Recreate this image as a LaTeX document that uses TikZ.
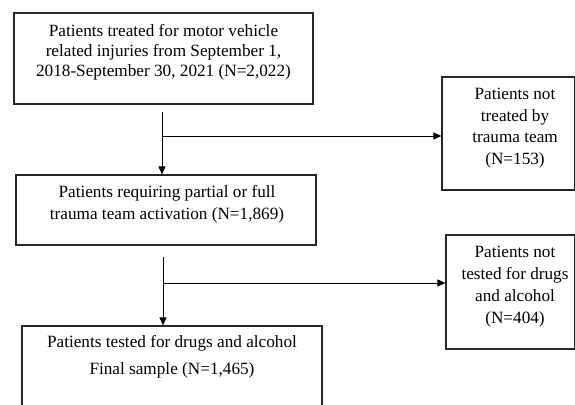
\documentclass[tikz,border=0pt]{standalone}
\usepackage{fontspec}
\setmainfont{Liberation Serif}
\usetikzlibrary{arrows.meta}
\begin{document}
\begin{tikzpicture}[x=1pt,y=-1pt,
  box/.style={draw=black!85, line width=1.2pt, rectangle, inner sep=0pt},
  txt/.style={align=center, inner sep=0pt, font=\fontsize{17.2}{20}\selectfont},
  arr/.style={draw=black, line width=0.9pt, -{Triangle[length=8pt,width=7pt]}},
  ln/.style={draw=black, line width=0.9pt}]
\clip (0,0) rectangle (575,404);
\fill[white] (0,0) rectangle (575,404);
% box 1
\node[box, minimum width=299pt, minimum height=91pt] (b1) at (163.5,58.5) {};
\node[txt] (t1) at (163.5,52.5) {Patients treated for motor vehicle\\related injuries from September 1,\\2018-September 30, 2021 (N=2,022)};
% box 2
\node[box, minimum width=300pt, minimum height=70pt] (b2) at (166,210) {};
\node[txt, font=\fontsize{17.2}{22}\selectfont] (t2) at (167,204.5) {Patients requiring partial or full\\trauma team activation (N=1,869)};
% box 3
\node[box, minimum width=132.5pt, minimum height=113pt] (b3) at (508.25,133.5) {};
\node[txt, font=\fontsize{17.2}{21.5}\selectfont] (t3) at (515,128) {Patients not\\treated by\\trauma team\\(N=153)};
% box 4
\node[box, minimum width=300pt, minimum height=100pt] (b4) at (172,376) {};
\node[txt, font=\fontsize{17.2}{27}\selectfont] (t4) at (172,357) {Patients tested for drugs and alcohol\\Final sample (N=1,465)};
% box 5
\node[box, minimum width=128.5pt, minimum height=114pt] (b5) at (510.25,292) {};
\node[txt, font=\fontsize{17.2}{22}\selectfont] (t5) at (515,286.5) {Patients not\\tested for drugs\\and alcohol\\(N=404)};
% connectors
\coordinate (s1) at (162,112);
\coordinate (j1) at (162,136);
\draw[arr] (s1) -- (s1 |- b2.north);
\draw[arr] (j1) -- (j1 -| b3.west);
\coordinate (s2) at (163,257);
\coordinate (j2) at (163,283);
\draw[arr] (s2) -- (s2 |- b4.north);
\draw[arr] (j2) -- (j2 -| b5.west);
\end{tikzpicture}
\end{document}
